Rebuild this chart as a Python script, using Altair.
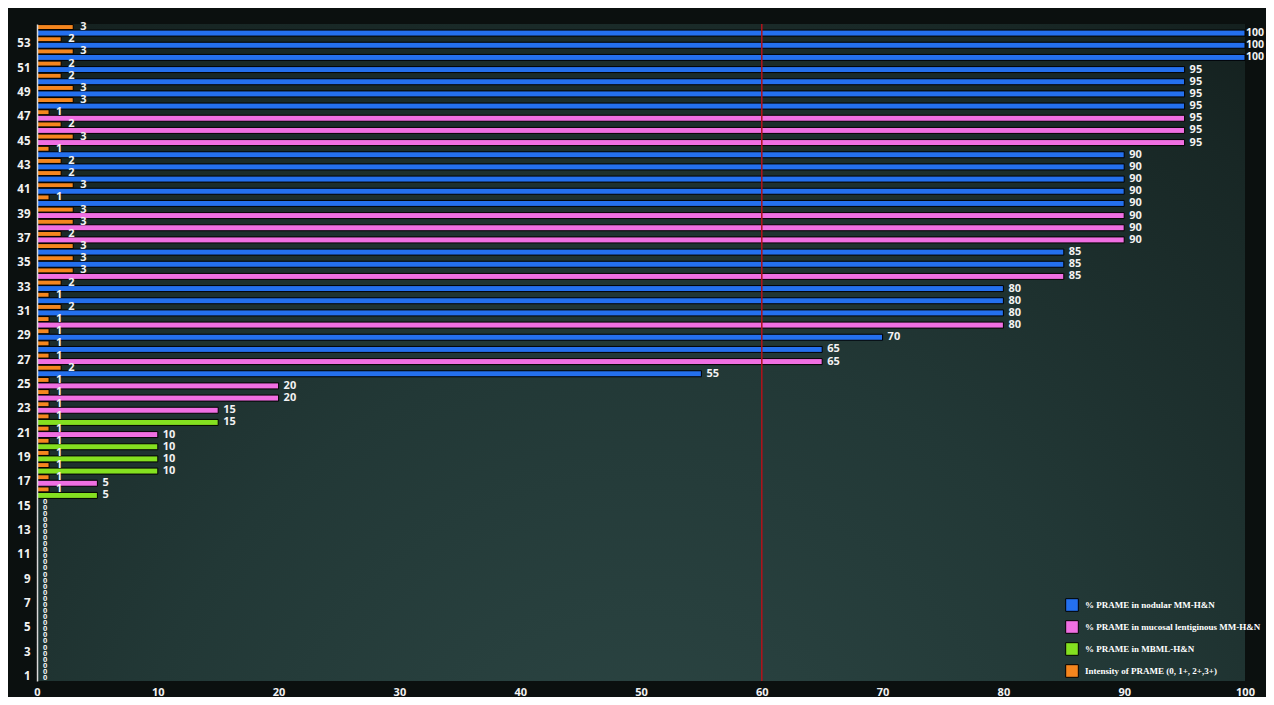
import altair as alt
import pandas as pd

# ---------------- data ----------------
cases = list(range(1, 55))
pct_values = [0] * 15 + [5, 5, 10, 10, 10, 10, 15, 15, 20, 20,
                         55, 65, 65, 70, 80, 80, 80, 80, 85, 85, 85,
                         90, 90, 90, 90, 90, 90, 90, 90,
                         95, 95, 95, 95, 95, 95, 95, 100, 100, 100]
intensity_values = [0] * 15 + [1, 1, 1, 1, 1, 1, 1, 1, 1, 1,
                               2, 1, 1, 1, 1, 2, 1, 2, 3, 3, 3, 2, 3, 3, 1,
                               3, 2, 2, 1, 3, 2, 1, 3, 3, 2, 2, 3, 2, 3]
group_codes = ["B"] * 15 + list("GPGGGPGPPP" + "BPBBPBBBPBBPPPBBBBBPPPBBBBBBB")

series_names = {
    "B": "% PRAME in nodular MM-H&N",
    "P": "% PRAME in mucosal lentiginous MM-H&N",
    "G": "% PRAME in  MBML-H&N",
    "I": "Intensity of PRAME (0, 1+, 2+,3+)",
}
series_order = [series_names[k] for k in ["B", "P", "G", "I"]]
series_colors = ["#2470ee", "#f06fe2", "#84e020", "#f5861e"]
x_ticks = list(range(0, 101, 10))
y_ticks = list(range(1, 54, 2))
ref_line = [60]

rows = []
for c, p, i, g in zip(cases, pct_values, intensity_values, group_codes):
    rows.append({"case": c, "value": p, "kind": "pct", "series": series_names[g]})
    rows.append({"case": c, "value": i, "kind": "int", "series": series_names["I"]})
df = pd.DataFrame(rows)

W, H = 1208, 657

ycode = alt.Y(
    "case:O",
    sort="descending",
    scale=alt.Scale(paddingInner=0, paddingOuter=0),
    axis=alt.Axis(values=y_ticks, title=None, ticks=False, labelPadding=7, labelOffset=2,
                  labelColor="#f2f2f2", labelFont="Open Sans", labelFontWeight="bold",
                  labelFontSize=11.5, domainColor="#d9d9d9", domainWidth=1.5, grid=False,
                  zindex=1),
)
xcode = alt.X(
    "value:Q",
    scale=alt.Scale(domain=[0, 100], nice=False),
    axis=alt.Axis(values=x_ticks, title=None, ticks=False, domain=False, grid=False,
                  labelPadding=5, labelColor="#f2f2f2", labelFont="Open Sans",
                  labelFontWeight="bold", labelFontSize=11, labelFlush=False),
)
ccode = alt.Color(
    "series:N",
    scale=alt.Scale(domain=series_order, range=series_colors),
    legend=alt.Legend(orient="none", legendX=1028, legendY=574, title=None,
                      symbolType="square", symbolSize=160, symbolStrokeColor="#000000",
                      symbolStrokeWidth=1, symbolOpacity=1, labelFont="Liberation Serif",
                      labelFontWeight="bold", labelFontSize=9, labelColor="#ffffff",
                      labelLimit=400, rowPadding=4, padding=0, labelOffset=6),
)

gradient = alt.Gradient(
    gradient="radial",
    stops=[alt.GradientStop(color="#2d4745", offset=0),
           alt.GradientStop(color="#223836", offset=0.45),
           alt.GradientStop(color="#182725", offset=0.8),
           alt.GradientStop(color="#101918", offset=1)],
    x1=0.5, y1=0.92, r1=0, x2=0.5, y2=0.92, r2=0.95,
)

bg = alt.Chart(pd.DataFrame({"a": [0]})).mark_rect(fill=gradient).encode(
    x=alt.value(0), x2=alt.value("width"), y=alt.value(0), y2=alt.value("height")
)

base = alt.Chart(df)

int_bars = base.transform_filter("datum.kind == 'int'").mark_bar(
    size=5, yOffset=-3, stroke="#000000", strokeWidth=1
).encode(y=ycode, x=xcode, color=ccode)

pct_bars = base.transform_filter("datum.kind == 'pct'").mark_bar(
    size=6, yOffset=3, stroke="#000000", strokeWidth=1
).encode(y=ycode, x=xcode, color=ccode)

text_style = dict(align="left", baseline="middle", font="Open Sans",
                  fontWeight="bold", color="#f2f2f2")

int_text = base.transform_filter("datum.kind == 'int' && datum.value > 0").mark_text(
    dx=7, yOffset=-3, fontSize=11, **text_style
).encode(y=ycode, x=xcode, text="value:Q")

pct_text = base.transform_filter(
    "datum.kind == 'pct' && datum.value > 0 && datum.value < 100").mark_text(
    dx=5, yOffset=3, fontSize=11, **text_style
).encode(y=ycode, x=xcode, text="value:Q")

top_text = base.transform_filter("datum.kind == 'pct' && datum.value == 100").mark_text(
    dx=1, yOffset=3, fontSize=10.5, **text_style
).encode(y=ycode, x=xcode, text="value:Q")

zero_int = base.transform_filter("datum.kind == 'int' && datum.value == 0").mark_text(
    dx=6, yOffset=-3, fontSize=7.5, **text_style
).encode(y=ycode, x=xcode, text="value:Q")

zero_pct = base.transform_filter("datum.kind == 'pct' && datum.value == 0").mark_text(
    dx=6, yOffset=3, fontSize=7.5, **text_style
).encode(y=ycode, x=xcode, text="value:Q")

rule = alt.Chart(pd.DataFrame({"ref": ref_line})).mark_rule(
    color="#b3121a", strokeWidth=1.5
).encode(x=alt.X("ref:Q", scale=alt.Scale(domain=[0, 100], nice=False)))

chart = alt.layer(
    bg, int_bars, pct_bars, rule, int_text, pct_text, top_text, zero_int, zero_pct
).properties(
    width=W, height=H,
    background="#0b100f",
    autosize=alt.AutoSizeParams(type="none"),
    padding={"left": 29, "top": 16, "right": 21, "bottom": 16},
).configure_view(stroke=None)

chart.save("out.html", embed_options={"renderer": "svg", "actions": False})
